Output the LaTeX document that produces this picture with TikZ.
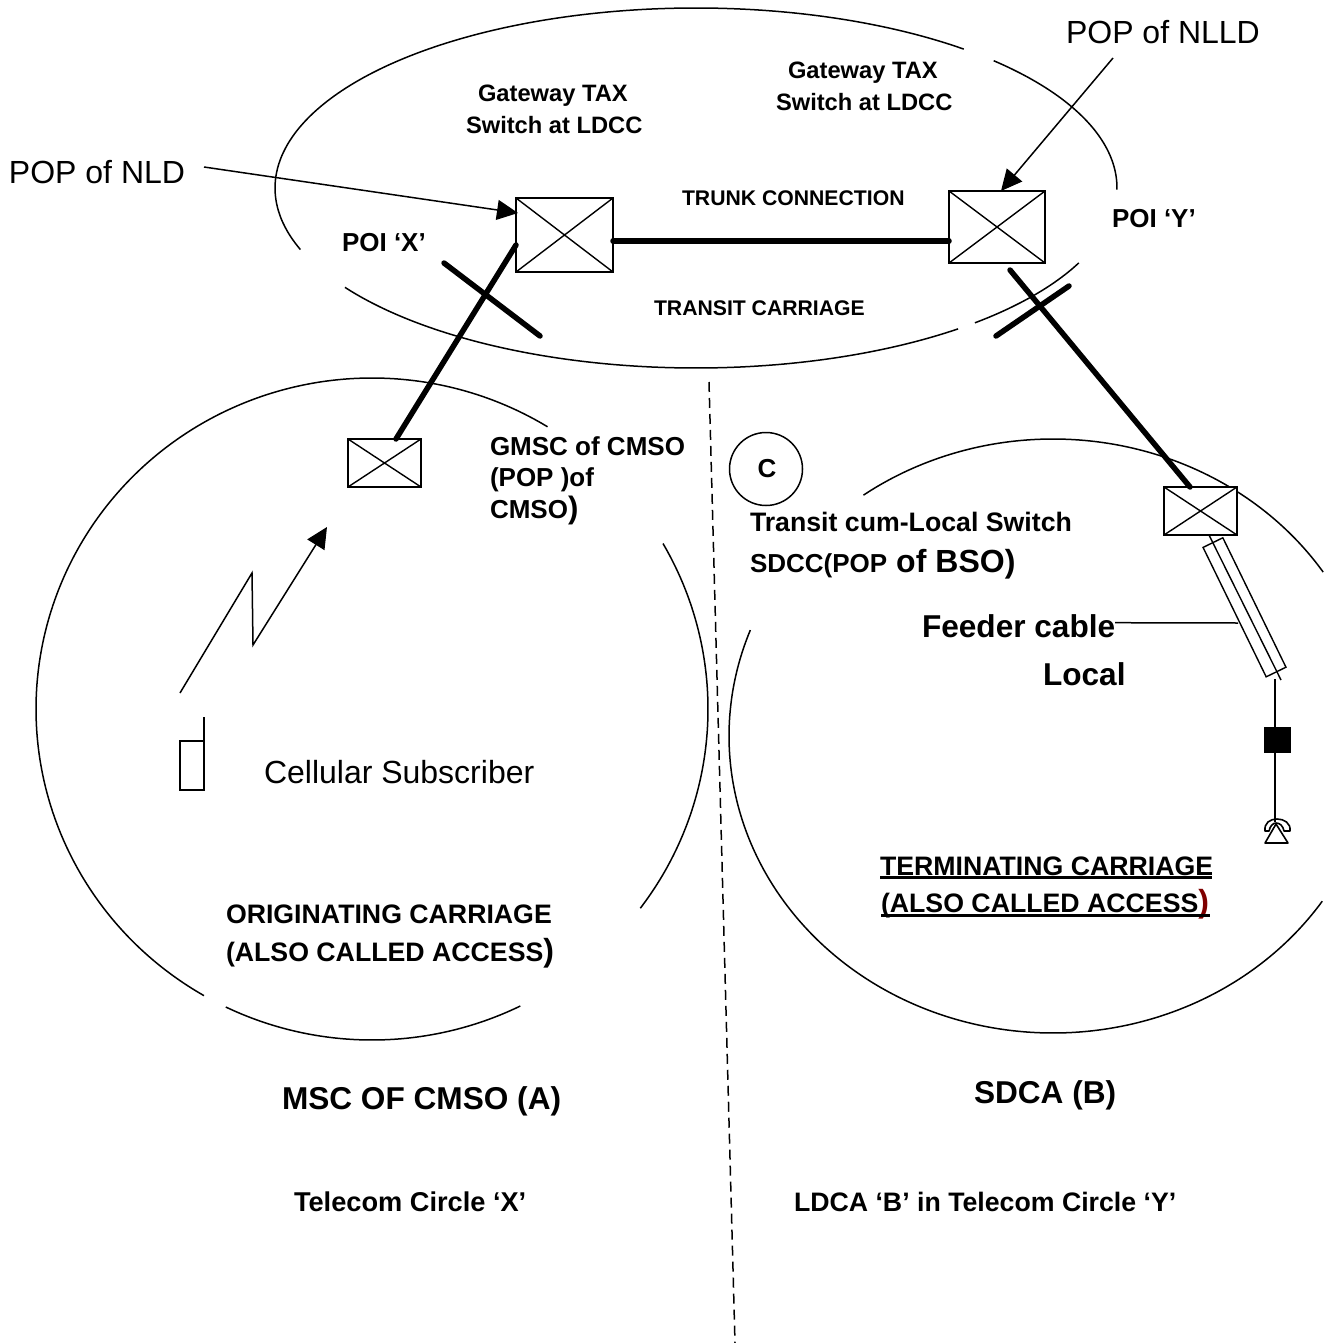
\documentclass[tikz,border=0pt]{standalone}
\usepackage{fontspec}
\setmainfont{Liberation Sans}
\usetikzlibrary{arrows.meta}
\newcommand\fsz[1]{\fontsize{#1}{#1}\selectfont}
\definecolor{parenred}{HTML}{7F0000}
\tikzset{
  lbl/.style={anchor=base west,inner sep=0pt,outer sep=0pt,text=black,font=\bfseries\fsz{26}},
  wide/.style={lbl,font=\bfseries\fsz{26.7}},
  plain/.style={lbl,font=\fsz{32}},
  big/.style={lbl,font=\bfseries\fsz{31.6}},
  gate/.style={lbl,font=\bfseries\fsz{23.7}},
  narrow/.style={lbl,font=\bfseries\fsz{21.2}},
  switchbox/.style={draw=black,line width=1.8pt,fill=white,inner sep=0pt,outer sep=0pt,
    minimum width=#1,
    path picture={\draw[line width=1.4pt] (path picture bounding box.north west)--(path picture bounding box.south east)
      (path picture bounding box.north east)--(path picture bounding box.south west);}},
  arcline/.style={draw=black,line width=1.5pt,line cap=butt},
  heavy/.style={draw=black,line width=5.5pt,line cap=round},
  thin/.style={draw=black,line width=1.5pt},
  tip/.style={-{Triangle[length=21pt,width=20pt]}},
}
\begin{document}
\begin{tikzpicture}[x=1pt,y=-1pt]
\useasboundingbox (0,0) rectangle (1336,1343);
% top ellipse arcs
\draw[arcline] plot[domain=160:309.5,samples=120,smooth] ({696+421*cos(\x)},{188+180*sin(\x)});
\draw[arcline] plot[domain=315:360.5,samples=50,smooth] ({696+421*cos(\x)},{188+180*sin(\x)});
\draw[arcline] plot[domain=24.6:48.5,samples=30,smooth] ({696+421*cos(\x)},{188+180*sin(\x)});
\draw[arcline] plot[domain=51.5:146.5,samples=80,smooth] ({696+421*cos(\x)},{188+180*sin(\x)});
% left circle arcs
\draw[arcline] plot[domain=120:301.5,samples=140,smooth] ({372+336*cos(\x)},{709+331*sin(\x)});
\draw[arcline] plot[domain=63.8:115.8,samples=50,smooth] ({372+336*cos(\x)},{709+331*sin(\x)});
\draw[arcline] plot[domain=-30:37,samples=60,smooth] ({372+336*cos(\x)},{709+331*sin(\x)});
% right circle arcs
\draw[arcline] plot[domain=234.2:326.5,samples=90,smooth] ({1053+324*cos(\x)},{736+297*sin(\x)});
\draw[arcline] plot[domain=33.8:200.9,samples=140,smooth] ({1053+324*cos(\x)},{736+297*sin(\x)});
% dashed divider
\coordinate (divtop) at (709,382);
\coordinate (divbot) at (735,1343);
\draw[thin,dash pattern=on 10pt off 6pt] (divtop) -- (divbot);
% switches
\node[switchbox=97pt,minimum height=74pt] (swx) at (564.5,235) {};
\node[switchbox=96pt,minimum height=72pt] (swy) at (997,227) {};
\node[switchbox=73pt,minimum height=48pt] (gmsc) at (384.5,463) {};
\node[switchbox=73pt,minimum height=48pt] (sdcc) at (1200.5,511) {};
% heavy links
\draw[heavy] ([yshift=-6pt]swx.east) -- ([yshift=-14pt]swy.west);
\draw[heavy] ([xshift=11.5pt]gmsc.north) -- ([yshift=-10pt]swx.west);
\draw[heavy] ([xshift=13pt,yshift=-7pt]swy.south) -- ([xshift=-10.5pt]sdcc.north);
\coordinate (pxa) at (444,263); \coordinate (pxb) at (540,336);
\draw[heavy] (pxa) -- (pxb);
\coordinate (pya) at (1069,286); \coordinate (pyb) at (996,336);
\draw[heavy] (pya) -- (pyb);
% labels
\node[plain] (nld) at (9,183) {POP of NLD};
\node[plain] (nlld) at (1066,44) {POP of NLLD};
\node[gate] (g1a) at (478,102) {Gateway TAX};
\node[gate] (g1b) at (466,134) {Switch at LDCC};
\node[gate] (g2a) at (788,79) {Gateway TAX};
\node[gate] (g2b) at (776,111) {Switch at LDCC};
\node[narrow] (trunk) at (682,205) {TRUNK CONNECTION};
\node[narrow] (transit) at (654,315) {TRANSIT CARRIAGE};
\node[lbl] (poix) at (342,251) {POI ‘X’};
\node[lbl] (poiy) at (1112,227) {POI ‘Y’};
\node[lbl] (gm1) at (490,455) {GMSC of CMSO};
\node[lbl] (gm2) at (490,486) {(POP )of};
\node[lbl] (gm3) at (490,518) {CMSO{\fsz{31})}};
\node[draw=black,line width=1.5pt,circle,minimum size=73pt,inner sep=0pt] (cc) at (766,469) {};
\node[lbl,anchor=base] (cl) at (767,477) {C};
\node[wide] (tr1) at (750,531) {Transit cum-Local Switch};
\node[lbl] (tr2) at (750,572) {SDCC(POP\hspace{9pt}{\fsz{32}of\hspace{9pt}BSO)}};
\node[big] (feeder) at (922,637) {Feeder cable};
\node[big] (local) at (1043,685) {Local};
\node[plain] (cell) at (264,783) {Cellular Subscriber};
\node[wide] (orig1) at (226,923) {ORIGINATING CARRIAGE};
\node[wide] (orig2) at (226,961) {(ALSO CALLED ACCESS{\fsz{32})}};
\node[wide] (term1) at (880,875) {TERMINATING CARRIAGE};
\node[wide] (term2) at (881,912) {(ALSO CALLED ACCESS{\color{parenred}\fsz{32})}};
\coordinate (u1a) at (880,877.5); \coordinate (u1b) at (1212,877.5);
\coordinate (u2a) at (881,915.5); \coordinate (u2b) at (1210,915.5);
\draw[draw=black,line width=2.2pt] (u1a) -- (u1b) (u2a) -- (u2b);
\node[big] (msc) at (282,1109) {MSC OF CMSO (A)};
\node[big] (sdca) at (974,1103) {SDCA (B)};
\node[lbl,font=\bfseries\fsz{27.2}] (tc1) at (294,1211) {Telecom Circle ‘X’};
\node[wide] (tc2) at (794,1211) {LDCA ‘B’ in Telecom Circle ‘Y’};
% pointer arrows
\coordinate (nldfrom) at (204,167);
\coordinate (nlldfrom) at (1113,58);
\draw[thin,tip] (nldfrom) -- ([xshift=2pt,yshift=22pt]swx.west);
\draw[thin,tip] (nlldfrom) -- ([xshift=4pt]swy.north);
% radio link
\coordinate (ra) at (180,693); \coordinate (rb) at (252,573); \coordinate (rc) at (253,645); \coordinate (rd) at (327,527);
\draw[thin,tip,line join=miter] (ra) -- (rb) -- (rc) -- (rd);
% handset
\node[draw=black,line width=1.5pt,minimum width=24pt,minimum height=49pt,inner sep=0pt,outer sep=0pt] (hand) at (192,765.5) {};
\coordinate (ant) at (204,717);
\draw[thin] (hand.north east) -- (ant);
% cable
\node[draw=black,line width=1.4pt,fill=white,minimum width=144pt,minimum height=22pt,inner sep=0pt,outer sep=0pt,rotate=-64] (cable) at (1244.5,607.3) {};
\coordinate (cabend) at (1281,680);
\draw[line width=1.4pt] ([xshift=8.5pt]sdcc.south) -- (cabend);
\coordinate (lead) at (1238,623);
\draw[thin] ([yshift=3pt]feeder.east) -- (lead);
% subscriber drop
\node[fill=black,draw=black,minimum width=26pt,minimum height=25pt,inner sep=0pt,outer sep=0pt] (sq) at (1277,739.5) {};
\coordinate (dropa) at (1275,679); \coordinate (dropb) at (1275,822);
\draw[thin] (dropa) -- (dropb);
% telephone
\coordinate (tl) at (1265,843); \coordinate (tr) at (1288,843); \coordinate (tt) at (1276,824);
\draw[line width=1.6pt,line join=round] (tl) -- (tr) -- (tt) -- cycle;
\coordinate (al) at (1265,831); \coordinate (ar) at (1290,831);
\coordinate (il) at (1269,831); \coordinate (ir) at (1284,831);
\draw[line width=1.6pt,line join=round] (al) .. controls (1264,823) and (1270,819) .. (1277,819) .. controls (1284,819) and (1291,823) .. (ar) -- (ir) .. controls (1283,826) and (1280,823) .. (1276,823) .. controls (1273,823) and (1270,826) .. (il) -- cycle;
\end{tikzpicture}
\end{document}
